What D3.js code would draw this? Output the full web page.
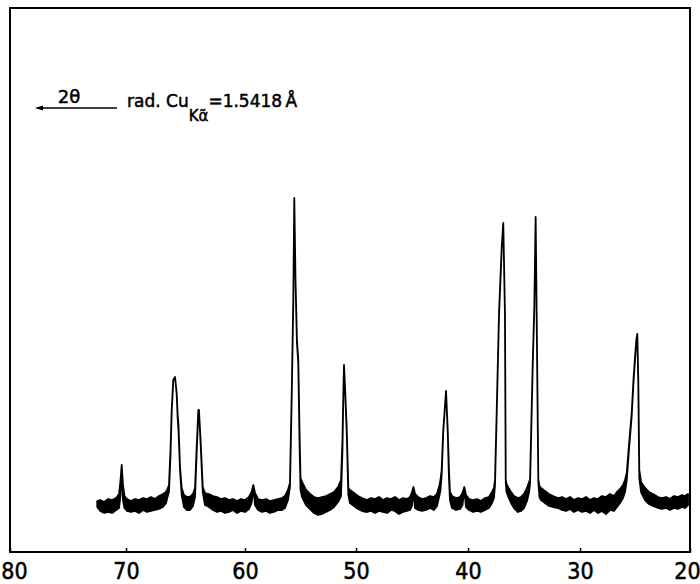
<!DOCTYPE html>
<html>
<head>
<meta charset="utf-8">
<script src="https://cdn.jsdelivr.net/npm/d3@7"></script>
<style>
  html, body { margin: 0; padding: 0; background: #fff; }
  svg { display: block; }
</style>
</head>
<body>
<svg id="chart" width="700" height="584"></svg>
<script>
// ---- DATA ----
// 2-theta (degrees), Cu K-alpha, decreasing left to right
const twoTheta = [72.48,72.22,71.88,71.54,71.20,70.85,70.60,70.47,70.37,70.26,70.13,69.92,69.58,69.24,68.91,68.57,68.24,67.90,67.56,67.23,66.89,66.64,66.47,66.39,66.26,66.16,66.03,65.88,65.74,65.66,65.59,65.46,65.32,65.13,64.87,64.62,64.37,64.20,64.06,63.92,63.87,63.72,63.55,63.36,63.03,62.69,62.35,62.02,61.68,61.34,61.01,60.67,60.34,60.00,59.64,59.41,59.25,59.10,58.83,58.47,58.11,57.75,57.39,57.03,56.67,56.40,56.13,55.95,55.79,55.65,55.56,55.45,55.32,55.20,55.09,55.00,54.86,54.50,54.14,53.78,53.42,53.06,52.70,52.34,51.98,51.62,51.35,51.22,51.14,51.08,50.96,50.84,50.69,50.54,50.18,49.82,49.46,49.02,48.66,48.30,47.95,47.59,47.23,46.88,46.52,46.16,45.80,45.45,45.18,45.00,44.87,44.73,44.46,44.11,43.75,43.39,43.04,42.77,42.54,42.46,42.35,42.21,41.96,41.81,41.70,41.61,41.43,41.07,40.71,40.49,40.33,40.18,39.91,39.55,39.20,38.84,38.48,38.13,37.86,37.68,37.59,37.44,37.23,36.99,36.85,36.70,36.63,36.56,36.43,36.16,35.89,35.54,35.27,35.00,34.73,34.55,34.46,34.22,34.08,33.96,33.87,33.72,33.62,33.48,33.13,32.77,32.41,31.96,31.61,31.25,30.89,30.54,30.18,29.82,29.45,29.09,28.73,28.36,28.00,27.64,27.27,26.91,26.64,26.36,26.09,25.91,25.75,25.55,25.30,25.14,25.00,24.88,24.79,24.70,24.61,24.45,24.09,23.73,23.36,22.91,22.55,22.18,21.82,21.45,21.09,20.73,20.45,20.18];

// upper edge of the noisy recorder trace (arbitrary counts)
const upperCounts = [102,104,100,106,104,108,116,144,174,134,112,106,102,106,104,108,106,110,106,112,116,120,128,134,204,284,344,350,318,274,254,170,128,114,110,110,116,128,210,284,284,218,130,118,116,112,110,106,108,104,106,102,106,104,110,120,134,118,106,104,106,102,104,106,108,112,124,138,318,504,708,544,424,384,244,148,140,124,116,110,108,110,112,116,120,130,144,224,318,374,314,250,128,124,118,112,108,104,108,106,110,104,108,106,110,104,108,106,110,120,130,116,110,106,108,112,110,116,134,144,164,244,322,244,164,120,112,108,110,118,130,114,106,104,106,102,108,110,120,128,144,278,478,610,658,478,144,136,130,120,112,108,110,116,128,140,144,378,490,670,478,144,132,128,122,116,112,108,110,106,110,104,108,106,110,104,108,106,112,110,116,112,120,126,134,144,158,214,278,344,390,424,436,344,164,140,128,120,116,110,108,110,106,112,110,114,112,116];

// lower edge of the noisy recorder trace (arbitrary counts)
const lowerCounts = [90,82,78,80,78,84,88,114,172,104,88,82,80,82,78,84,80,82,84,86,90,98,114,120,194,280,342,350,316,268,244,164,114,90,84,84,92,110,200,280,284,212,120,94,90,84,80,82,78,80,84,78,82,80,86,98,128,94,84,80,82,78,80,84,84,88,104,130,312,500,706,540,418,378,224,124,110,94,86,78,74,76,80,84,90,100,112,204,314,374,310,244,114,98,92,86,82,80,82,78,82,80,78,84,82,76,80,82,84,92,124,88,84,82,84,88,84,92,114,124,154,240,322,240,148,104,88,84,86,94,126,90,84,80,82,80,84,88,98,108,134,274,474,606,658,474,140,120,112,98,88,80,82,88,102,120,136,374,486,670,474,140,110,104,98,92,90,88,84,82,86,80,84,80,82,78,84,78,82,76,84,82,90,98,108,120,144,204,272,338,384,420,436,336,148,120,104,96,92,88,86,88,84,88,86,90,88,94];

const tickValues = [80, 70, 60, 50, 40, 30, 20];
const tickLabels = ["80", "70", "60", "50", "40", "30", "20"];

// ---- DRAWING ----
const svg = d3.select("#chart");
const plotTop = 8, plotBottom = 552;

// the hand-drawn axis is slightly uneven; map each decade to where it sits
const x = d3.scaleLinear()
  .domain(tickValues)
  .range([10, 126, 245, 356, 468, 580, 690]);

const y = d3.scaleLinear()
  .domain([0, 1088])
  .range([plotBottom, plotTop]);

const data = twoTheta.map((t, i) => ({ t, hi: upperCounts[i], lo: lowerCounts[i] }));

// frame
svg.append("rect")
  .attr("x", x(80))
  .attr("y", plotTop)
  .attr("width", x(20) - x(80))
  .attr("height", plotBottom - plotTop)
  .attr("fill", "none")
  .attr("stroke", "#000")
  .attr("stroke-width", 2);

// x axis (ticks inward)
const axis = svg.append("g")
  .attr("transform", `translate(0,${plotBottom})`)
  .call(d3.axisBottom(x)
    .tickValues(tickValues)
    .tickFormat((d, i) => tickLabels[i])
    .tickSize(-4)
    .tickPadding(11));
axis.select(".domain").remove();
axis.selectAll(".tick line").attr("stroke", "#000").attr("stroke-width", 1.5);
axis.selectAll(".tick text")
  .attr("fill", "#000")
  .attr("stroke", "#000")
  .attr("stroke-width", 0.5)
  .attr("font-family", "'Liberation Sans Narrow', 'DejaVu Sans Condensed', sans-serif")
  .attr("font-size", 23)
  .attr("dy", "0.71em")
  .attr("dx", d => d === 80 ? 4 : (d === 20 ? -3 : 0));

// trace: noisy band between lower and upper envelopes
const area = d3.area()
  .x(d => x(d.t))
  .y0(d => y(d.lo))
  .y1(d => y(d.hi))
  .curve(d3.curveLinear);

svg.append("path")
  .datum(data)
  .attr("d", area)
  .attr("fill", "#000")
  .attr("stroke", "#000")
  .attr("stroke-width", 1.8)
  .attr("stroke-linejoin", "round");

// annotation: arrow with 2θ and radiation
const ann = svg.append("g").attr("fill", "#000");
const arrowY = 108;
ann.append("line")
  .attr("x1", 37).attr("x2", 117)
  .attr("y1", arrowY).attr("y2", arrowY)
  .attr("stroke", "#000").attr("stroke-width", 1.6);
ann.append("path")
  .attr("d", `M35,${arrowY} L43,${arrowY - 2.5} L43,${arrowY + 2.5} Z`)
  .attr("fill", "#000");
ann.append("text")
  .attr("x", 69).attr("y", 103)
  .attr("text-anchor", "middle")
  .attr("stroke", "#000").attr("stroke-width", 0.5)
  .attr("font-family", "'DejaVu Sans', sans-serif")
  .attr("font-size", 18)
  .text("2θ");

const t = ann.append("text")
  .attr("x", 127).attr("y", 107)
  .attr("stroke", "#000").attr("stroke-width", 0.5)
  .attr("font-family", "'DejaVu Sans', sans-serif")
  .attr("font-size", 17);
t.append("tspan").text("rad. Cu");
t.append("tspan").attr("font-size", 15).attr("dy", 14).text("Kα\u0303");
t.append("tspan").attr("dy", -14).text("=1.5418\u2009Å");
</script>
</body>
</html>
